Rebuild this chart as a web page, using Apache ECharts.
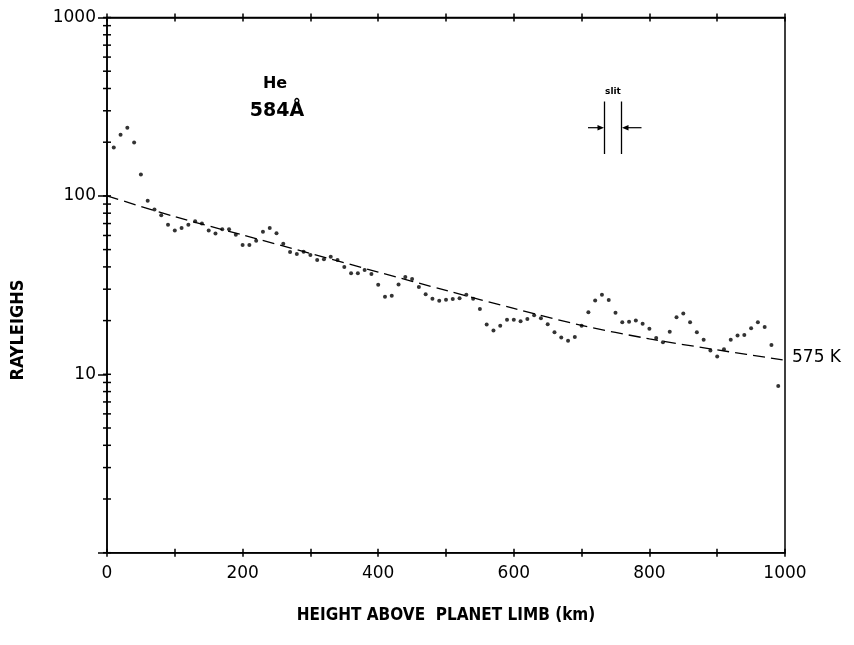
<!DOCTYPE html>
<html>
<head>
<meta charset="utf-8">
<title>He 584 Å limb profile</title>
<script src="https://cdn.jsdelivr.net/npm/echarts@6/dist/echarts.min.js"></script>
<style>
  html, body { margin: 0; padding: 0; background: #fff; }
  #chart { width: 854px; height: 645px; }
</style>
</head>
<body>
<div id="chart"></div>
<script>
// 观测点：高度 (km) 与亮度 (Rayleighs)
const heights = [10, 20, 30, 40, 50, 60, 70, 80, 90, 100,
  110, 120, 130, 140, 150, 160, 170, 180, 190, 200,
  210, 220, 230, 240, 250, 260, 270, 280, 290, 300,
  310, 320, 330, 340, 350, 360, 370, 380, 390, 400,
  410, 420, 430, 440, 450, 460, 470, 480, 490, 500,
  510, 520, 530, 540, 550, 560, 570, 580, 590, 600,
  610, 620, 630, 640, 650, 660, 670, 680, 690, 700,
  710, 720, 730, 740, 750, 760, 770, 780, 790, 800,
  810, 820, 830, 840, 850, 860, 870, 880, 890, 900,
  910, 920, 930, 940, 950, 960, 970, 980, 990];
const rayleighs = [187, 220, 241, 199, 132, 94, 84, 78, 69, 64,
  66, 69, 72, 70, 64, 61.5, 65, 65, 60.5, 53,
  53, 56, 63, 66, 61.7, 54, 48.5, 47.2, 48.7, 46.7,
  43.7, 44.2, 45.6, 43.7, 39.9, 36.9, 36.9, 38.4, 36.5, 31.8,
  27.2, 27.6, 31.9, 35.1, 34.2, 30.9, 28.1, 26.5, 25.8, 26.2,
  26.4, 26.7, 27.9, 26.5, 23.2, 19.0, 17.6, 18.7, 20.2, 20.2,
  19.8, 20.4, 21.4, 20.6, 19.1, 17.2, 16.1, 15.4, 16.2, 18.7,
  22.3, 25.9, 27.9, 26.1, 22.1, 19.6, 19.7, 20.0, 19.2, 18.0,
  16.0, 15.1, 17.3, 20.9, 21.9, 19.6, 17.2, 15.6, 13.6, 12.6,
  13.8, 15.6, 16.5, 16.6, 18.1, 19.6, 18.4, 14.6, 8.6];

// 575 K 模型曲线（虚线）
const modelHeights = [0, 100, 200, 300, 400, 500, 600, 700, 800, 900, 1000];
const modelRayleighs = [100, 76.5, 60.4, 47.6, 37.4, 29.5, 23.4, 18.8, 15.8, 13.7, 12.0];

// 对数轴的次刻度
const yMinorTicks = [2, 3, 4, 5, 6, 7, 8, 9,
  20, 30, 40, 50, 60, 70, 80, 90,
  200, 300, 400, 500, 600, 700, 800, 900];
const xLabelValues = [0, 200, 400, 600, 800, 1000];

const chart = echarts.init(document.getElementById('chart'));

const fontFamily = 'DejaVu Sans, sans-serif';
const condensed = '"DejaVu Sans Condensed", "DejaVu Sans", sans-serif';
const black = '#000';

// 同一范围的 x 轴，用来画出穿过轴线的刻度
function makeXAxis(position, inside, showLine, showLabel) {
  return {
    type: 'value',
    position: position,
    min: 0,
    max: 1000,
    interval: 100,
    axisLine: { show: showLine, onZero: false, lineStyle: { color: black, width: 1.5 } },
    axisTick: { show: true, inside: inside, length: 4, lineStyle: { color: black, width: 1.5 } },
    axisLabel: {
      show: showLabel,
      color: black,
      fontFamily: fontFamily,
      fontSize: 17,
      margin: 12,
      formatter: v => (xLabelValues.indexOf(v) >= 0 ? String(v) : '')
    },
    splitLine: { show: false }
  };
}

const option = {
  backgroundColor: '#fff',
  animation: false,
  grid: {
    left: 107,
    right: 69,
    top: 17.5,
    bottom: 92.3,
    show: true,
    borderColor: black,
    borderWidth: 1.5,
    containLabel: false
  },
  xAxis: [
    Object.assign(makeXAxis('bottom', false, true, true), {
      name: 'HEIGHT ABOVE  PLANET LIMB (km)',
      nameLocation: 'middle',
      nameGap: 54,
      nameTextStyle: { color: black, fontFamily: condensed, fontWeight: 'bold', fontSize: 17 }
    }),
    makeXAxis('bottom', true, false, false),
    makeXAxis('top', false, true, false),
    makeXAxis('top', true, false, false)
  ],
  yAxis: [
    {
      type: 'log',
      logBase: 10,
      min: 1,
      max: 1000,
      position: 'left',
      axisLine: { show: true, onZero: false, lineStyle: { color: black, width: 1.5 } },
      axisTick: { show: true, inside: false, length: 9, lineStyle: { color: black, width: 1.5 } },
      axisLabel: {
        color: black,
        fontFamily: fontFamily,
        fontSize: 17,
        margin: 11,
        formatter: v => (v === 1 ? '' : String(v))
      },
      splitLine: { show: false }
    }
  ],
  series: [
    {
      name: 'minor ticks',
      type: 'custom',
      silent: true,
      clip: false,
      z: 5,
      data: yMinorTicks.concat([1, 10, 100, 1000]).map(v => [0, v]),
      renderItem: (params, api) => {
        const p = api.coord([0, api.value(1)]);
        return {
          type: 'line',
          shape: { x1: p[0] - 4, y1: p[1], x2: p[0] + 4, y2: p[1] },
          style: { stroke: black, lineWidth: 1.5 }
        };
      }
    },
    {
      name: '575 K',
      type: 'line',
      data: modelHeights.map((h, i) => [h, modelRayleighs[i]]),
      smooth: 0.3,
      showSymbol: false,
      silent: true,
      lineStyle: { color: black, width: 1.3, type: [12, 6] }
    },
    {
      name: 'He 584',
      type: 'scatter',
      data: heights.map((h, i) => [h, rayleighs[i]]),
      symbol: 'circle',
      symbolSize: 4,
      itemStyle: { color: black }
    }
  ],
  graphic: [
    {
      type: 'text',
      x: 18,
      y: 330,
      rotation: Math.PI / 2,
      style: {
        text: 'RAYLEIGHS',
        fill: black,
        font: 'bold 18px ' + condensed,
        align: 'center',
        verticalAlign: 'middle'
      }
    },
    {
      type: 'text',
      x: 792,
      y: 358,
      style: { text: '575 K', fill: black, font: '17px ' + fontFamily, align: 'left', verticalAlign: 'middle' }
    },
    {
      type: 'text',
      x: 275,
      y: 84,
      style: { text: 'He', fill: black, font: 'bold 16px ' + fontFamily, align: 'center', verticalAlign: 'middle' }
    },
    {
      type: 'text',
      x: 277,
      y: 111,
      style: { text: '584Å', fill: black, font: 'bold 19px ' + fontFamily, align: 'center', verticalAlign: 'middle' }
    },
    // slit 标记
    {
      type: 'text',
      x: 613,
      y: 92,
      style: { text: 'slit', fill: black, font: 'bold 9px ' + fontFamily, align: 'center', verticalAlign: 'middle' }
    },
    { type: 'line', shape: { x1: 604.5, y1: 101.5, x2: 604.5, y2: 154 }, style: { stroke: black, lineWidth: 1.3 } },
    { type: 'line', shape: { x1: 621.5, y1: 101.5, x2: 621.5, y2: 154 }, style: { stroke: black, lineWidth: 1.3 } },
    { type: 'line', shape: { x1: 588, y1: 127.7, x2: 600, y2: 127.7 }, style: { stroke: black, lineWidth: 1.2 } },
    { type: 'polygon', shape: { points: [[604, 127.7], [597.5, 125], [597.5, 130.4]] }, style: { fill: black } },
    { type: 'line', shape: { x1: 626, y1: 127.7, x2: 641.5, y2: 127.7 }, style: { stroke: black, lineWidth: 1.2 } },
    { type: 'polygon', shape: { points: [[622, 127.7], [628.5, 125], [628.5, 130.4]] }, style: { fill: black } }
  ]
};

chart.setOption(option);
</script>
</body>
</html>
